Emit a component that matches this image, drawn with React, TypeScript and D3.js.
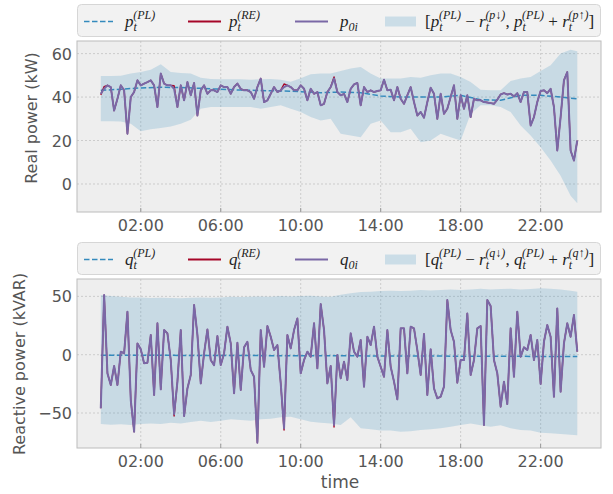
import React from 'react'
import * as d3 from 'd3'

// 10-minute samples, 00:00 .. 23:50
const stepMinutes = 10
// band read every 30 minutes, last one at 23:50
const bandMinutes = [...d3.range(0, 1440, 30), 1430]
// planned values read once an hour, last one at 23:50
const plMinutes = [...d3.range(0, 1440, 60), 1430]
const xTickLabels = ['02:00', '06:00', '10:00', '14:00', '18:00', '22:00']

// ---- real power (kW)
const realP0 = [
  41.5, 43.8, 45.4, 44.6, 33.8, 39.2, 45.4, 43.1, 23.1, 40.0, 42.3, 47.7, 45.4, 46.2, 46.9, 47.7,
  45.4, 35.4, 50.8, 46.2, 45.4, 45.4, 43.8, 35.4, 45.4, 38.5, 46.9, 40.8, 46.5, 31.5, 43.1, 45.4,
  41.5, 43.1, 43.1, 42.3, 45.4, 44.6, 44.6, 41.5, 44.6, 46.2, 43.8, 43.1, 43.1, 42.3, 39.2, 44.6,
  48.5, 37.7, 38.5, 41.5, 44.6, 42.3, 43.1, 44.6, 45.4, 44.6, 43.1, 43.1, 45.4, 43.8, 38.5, 43.8,
  41.5, 42.3, 36.2, 36.9, 42.3, 44.6, 48.5, 42.3, 40.8, 41.5, 37.7, 43.8,
  45.8, 46.5, 36.2, 44.6, 42.3, 43.1, 42.3, 42.8, 43.1, 48.0, 43.1, 43.4, 38.5, 44.6, 39.2, 36.9,
  40.8, 44.6, 37.7, 31.5, 33.1, 30.5, 37.7, 44.3, 41.5, 30.0, 41.5, 32.3, 34.6, 40.0, 45.4, 30.0,
  40.8, 34.6, 40.8, 30.8, 39.2, 38.5, 38.5, 37.7, 37.5, 37.2, 36.9, 38.8, 41.2, 41.8, 41.2, 41.5,
  40.3, 41.8, 37.7, 42.3, 42.3, 26.9, 30.8, 37.7, 42.8, 43.1, 41.8, 43.8, 35.4, 15.4, 30.8, 47.7,
  51.5, 15.4, 10.8, 20.0,
]
// where the RE trace differs from p0 (index, value)
const realReDiff: [number, number][] = [[0, 41.0], [1, 44.8], [22, 45.2], [55, 46.0], [70, 49.3]]
const realPL = [
  43.1, 43.6, 44.2, 44.5, 44.4, 44.0, 43.6, 43.2, 43.0, 42.8, 42.5, 42.0, 42.3, 42.0, 40.5, 40.0,
  40.0, 40.0, 40.8, 38.8, 38.5, 40.8, 40.8, 40.0, 39.2,
]
const realUpper = [
  49.7, 49.7, 49.8, 50.8, 51.5, 52.6, 55.1, 51.5, 51.1, 50.8, 48.9, 48.3, 48.2, 48.2, 48.2, 48.0,
  48.2, 48.3, 48.0, 47.1, 48.6, 50.5, 50.8, 50.8, 52.0,
  53.1, 53.8, 50.8, 48.5, 48.5, 48.5, 49.2, 48.9, 50.0, 50.8, 50.8, 49.2, 46.9, 43.4, 43.1, 43.1,
  47.4, 48.5, 49.2, 52.0, 54.6, 60.0, 61.8, 61.1,
]
const realLower = [
  28.9, 28.9, 28.8, 27.7, 24.3, 25.2, 25.8, 26.5, 27.7, 29.5, 34.6, 35.4, 35.4, 35.4, 35.4, 35.4,
  34.6, 35.4, 36.2, 34.6, 33.1, 30.8, 29.2, 30.0, 23.1,
  22.3, 21.5, 27.7, 29.2, 23.8, 23.8, 25.4, 19.2, 20.0, 23.1, 21.5, 20.0, 32.3, 36.2, 36.2, 35.4,
  33.1, 26.9, 22.3, 16.9, 10.8, 3.8, -5.4, -8.9,
]

// ---- reactive power (kVAR)
const reactQ0 = [
  -46.0, 51.1, -16.0, -26.0, -9.7, -26.0, 2.6, 1.1, 36.9, -38.9, -66.0, 9.7, 4.6, -7.4, -6.9, 16.9,
  -34.6, 26.9, -29.7, 21.1, 18.3, -4.6, -50.9, -23.1, 21.1, -52.6, -28.9, -17.4, 42.6, 16.9, -24.6, 1.1,
  21.7, -4.6, -8.9, 16.0, -8.9, 1.1, 24.0, 9.7, -33.1, 10.3, -30.3, 6.3, 11.1, -13.1, -18.9, -75.4,
  21.1, -10.3, 24.6, 15.4, 4.0, 8.3, -24.6, -63.1, 16.9, 5.4, 21.1, 31.1, -16.0, -4.6, 2.6, -1.7,
  26.9, -11.7, 43.4, 21.1, -24.6, -9.7, -60.3, -0.3, -20.3, -6.0, -21.7, 18.3,
  2.6, -1.7, 12.6, -27.4, 15.4, 8.3, 24.0, -1.7, -10.3, -18.9, 21.1, -10.3, -23.1, -38.3, 22.6, 22.6,
  -16.0, 24.0, 22.6, 4.0, -17.4, 17.7, -34.6, 4.6, -28.9, -37.4, -36.0, -27.4, 46.9, 21.1, 11.1, -24.0,
  -4.6, -4.6, 35.4, -17.4, -4.6, 22.6, 24.6, -60.3, 46.9, 41.7, -4.6, -16.0, -44.6, -23.1, -42.3, 22.6,
  -18.9, 36.9, -1.7, 6.3, 4.0, 16.9, -4.6, 12.6, -25.1, 11.1, 25.4, 15.4, -36.0, 39.7, -31.7, 9.7,
  26.9, 15.4, 34.0, 2.6,
]
const reactReDiff: [number, number][] = [[22, -52.6], [55, -64.6], [70, -62.0]]
const reactPL = [
  -0.4, -0.4, -0.5, -0.5, -0.6, -0.6, -0.7, -0.7, -0.8, -0.8, -0.9, -0.9, -1.0, -1.0, -1.1, -1.1,
  -1.2, -1.2, -1.3, -1.3, -1.4, -1.4, -1.5, -1.5, -1.5,
]
const reactUpper = [
  51.1, 50.3, 49.7, 49.1, 49.1, 48.6, 48.9, 48.6, 48.3, 48.9, 49.1, 48.9, 49.1, 49.7, 49.4, 49.7,
  50.0, 49.7, 50.3, 50.0, 50.3, 50.6, 50.0, 49.7, 51.4,
  52.6, 53.7, 54.0, 54.6, 54.9, 54.6, 54.9, 55.4, 55.1, 55.4, 56.0, 55.4, 56.0, 56.6, 56.0, 56.3,
  56.6, 56.0, 56.3, 56.9, 56.6, 56.0, 54.9, 54.0,
]
const reactLower = [
  -59.4, -60.0, -59.7, -60.3, -59.4, -58.9, -59.4, -58.3, -58.9, -57.7, -56.6, -57.7, -56.6, -55.4, -56.0, -56.6,
  -55.4, -54.9, -53.7, -53.1, -55.4, -57.4, -58.3, -58.9, -60.3,
  -53.7, -63.1, -64.0, -65.1, -65.1, -66.0, -65.7, -64.6, -64.0, -63.1, -61.7, -60.3, -58.9, -60.6, -61.7, -60.6,
  -63.1, -64.6, -65.1, -66.9, -67.4, -68.0, -68.6, -69.1,
]

const BLUE = '#348ABD'
const RED = '#A60628'
const PURPLE = '#7A68A6'
const TEXT = '#555555'

const parseHM = d3.timeParse('%H:%M')
const base = parseHM('00:00') as Date
const at = (min: number) => new Date(base.getTime() + min * 60000)
const fmtY = (t: number) => String(t).replace('-', '\u2212')

type Tok = { s: string; sub?: string; sup?: string; up?: boolean }

function MathText({ x, y, toks }: { x: number; y: number; toks: Tok[] }) {
  const kids: React.ReactNode[] = []
  let pend = 0
  toks.forEach((t, i) => {
    kids.push(
      <tspan key={i + 'b'} dy={pend} fontStyle={t.up ? 'normal' : 'italic'}>{t.s}</tspan>
    )
    pend = 0
    if (t.sub) {
      kids.push(<tspan key={i + 's'} fontSize={12} dy={4}>{t.sub}</tspan>)
      pend = -4
    }
    if (t.sup) {
      const back = t.sub ? -t.sub.length * 3.6 : 0
      kids.push(
        <tspan key={i + 'p'} fontSize={12} dx={back} dy={t.sub ? -12 : -8}>{t.sup}</tspan>
      )
      pend = 8
    }
  })
  return (
    <text x={x} y={y} fontFamily="'Liberation Serif', serif" fontSize={17} fill="#222" fontStyle="italic">
      {kids}
    </text>
  )
}

type PanelProps = {
  top: number
  bottom: number
  yDomain: [number, number]
  yTicks: number[]
  yLabel: string
  yLabelX: number
  yLabelY: number
  v: string
  s0: number[]
  reDiff: [number, number][]
  pl: number[]
  upper: number[]
  lower: number[]
}

const left = 77
const right = 601

function Panel(p: PanelProps) {
  const x = d3.scaleTime()
    .domain([at(-1.19 * 60), at(25.02 * 60)])
    .range([left, right])
  const y = d3.scaleLinear().domain(p.yDomain).range([p.bottom, p.top])

  const reSeries = p.s0.map((v, i) => {
    const d = p.reDiff.find(r => r[0] === i)
    return d ? d[1] : v
  })

  const line = d3.line<number>()
    .x((_, i) => x(at(i * stepMinutes)))
    .y(d => y(d))
  const plLine = d3.line<number>()
    .x((_, i) => x(at(plMinutes[i])))
    .y(d => y(d))
  const band = d3.area<number>()
    .x((_, i) => x(at(bandMinutes[i])))
    .y0((_, i) => y(p.lower[i]))
    .y1(d => y(d))

  const xTicks = xTickLabels.map(s => parseHM(s) as Date)
  const legY = p.top - 19.5
  const v = p.v

  return (
    <g>
      <rect x={left} y={p.top} width={right - left} height={p.bottom - p.top} fill="#eeeeee" />
      {xTicks.map((t, i) => (
        <line key={'gx' + i} x1={x(t)} x2={x(t)} y1={p.top} y2={p.bottom}
          stroke="#bdbdbd" strokeWidth={0.7} strokeDasharray="2,2" />
      ))}
      {p.yTicks.map((t, i) => (
        <line key={'gy' + i} x1={left} x2={right} y1={y(t)} y2={y(t)}
          stroke="#bdbdbd" strokeWidth={0.7} strokeDasharray="2,2" />
      ))}
      <path d={band(p.upper) || ''} fill={BLUE} fillOpacity={0.2} />
      <path d={plLine(p.pl) || ''} fill="none" stroke={BLUE} strokeWidth={1.5} strokeDasharray="5.5,2.5" />
      <path d={line(reSeries) || ''} fill="none" stroke={RED} strokeWidth={1.4} strokeLinejoin="round" />
      <path d={line(p.s0) || ''} fill="none" stroke={PURPLE} strokeWidth={2} strokeLinejoin="round" />
      <rect x={left} y={p.top} width={right - left} height={p.bottom - p.top}
        fill="none" stroke="#bcbcbc" strokeWidth={1} />
      {xTicks.map((t, i) => (
        <g key={'xt' + i}>
          <line x1={x(t)} x2={x(t)} y1={p.bottom} y2={p.bottom - 4} stroke="#999" strokeWidth={1} />
          <text x={x(t)} y={p.bottom + 19} textAnchor="middle" fontSize={16} fill={TEXT}>
            {xTickLabels[i]}
          </text>
        </g>
      ))}
      {p.yTicks.map((t, i) => (
        <text key={'yt' + i} x={left - 5} y={y(t) + 6} textAnchor="end" fontSize={16} fill={TEXT}>
          {fmtY(t)}
        </text>
      ))}
      <text transform={`translate(${p.yLabelX},${p.yLabelY}) rotate(-90)`} textAnchor="middle"
        fontSize={16} fill={TEXT}>{p.yLabel}</text>

      {/* legend */}
      <rect x={77.5} y={legY - 17} width={523} height={32} rx={4}
        fill="#f2f2f2" stroke="#d6d6d6" strokeWidth={1} />
      <line x1={84} x2={113} y1={legY} y2={legY} stroke={BLUE} strokeWidth={1.5} strokeDasharray="5.5,2.5" />
      <MathText x={125} y={legY + 5} toks={[{ s: v, sub: 't', sup: '(PL)' }]} />
      <line x1={188} x2={221} y1={legY} y2={legY} stroke={RED} strokeWidth={2} />
      <MathText x={229} y={legY + 5} toks={[{ s: v, sub: 't', sup: '(RE)' }]} />
      <line x1={295} x2={328} y1={legY} y2={legY} stroke={PURPLE} strokeWidth={2} />
      <MathText x={340} y={legY + 5} toks={[{ s: v, sub: '0i' }]} />
      <rect x={385} y={legY - 5} width={31} height={10} fill={BLUE} fillOpacity={0.2} />
      <MathText x={425} y={legY + 5} toks={[
        { s: '[', up: true },
        { s: v, sub: 't', sup: '(PL)' },
        { s: ' − ', up: true },
        { s: 'r', sub: 't', sup: `(${v}↓)` },
        { s: ', ', up: true },
        { s: v, sub: 't', sup: '(PL)' },
        { s: ' + ', up: true },
        { s: 'r', sub: 't', sup: `(${v}↑)` },
        { s: ']', up: true },
      ]} />
    </g>
  )
}

export default function App() {
  return (
    <svg width={613} height={494} style={{ display: 'block', position: 'absolute', left: 0, top: 0 }}
      fontFamily="'DejaVu Sans', sans-serif">
      <rect width={613} height={494} fill="#ffffff" />
      <Panel top={41} bottom={212} yDomain={[-12.9, 65.8]} yTicks={[0, 20, 40, 60]}
        yLabel="Real power (kW)" yLabelX={37} yLabelY={118} v="p"
        s0={realP0} reDiff={realReDiff} pl={realPL} upper={realUpper} lower={realLower} />
      <Panel top={279} bottom={448} yDomain={[-80, 64.9]} yTicks={[-50, 0, 50]}
        yLabel="Reactive power (kVAR)" yLabelX={25} yLabelY={364} v="q"
        s0={reactQ0} reDiff={reactReDiff} pl={reactPL} upper={reactUpper} lower={reactLower} />
      <text x={340} y={488} textAnchor="middle" fontSize={17} fill={TEXT}>time</text>
    </svg>
  )
}
